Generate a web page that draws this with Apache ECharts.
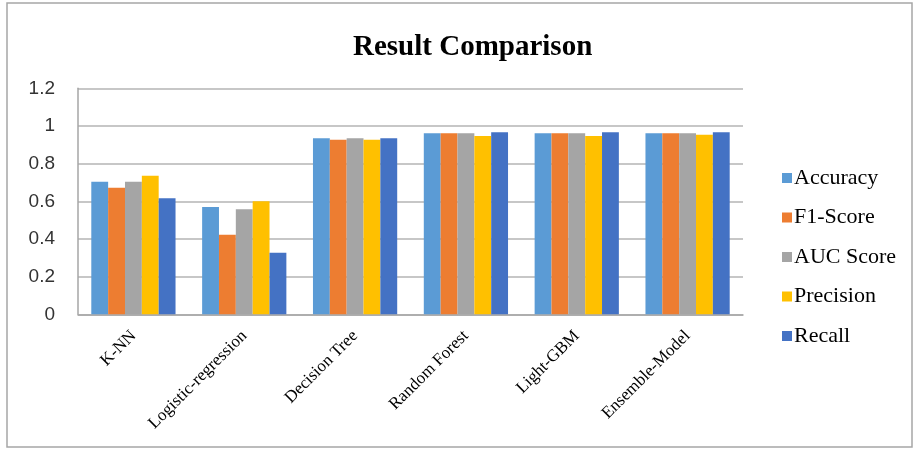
<!DOCTYPE html>
<html>
<head>
<meta charset="utf-8">
<script src="https://cdn.jsdelivr.net/npm/echarts@6/dist/echarts.min.js"></script>
<style>
html,body{margin:0;padding:0;background:#fff;}
#chart{width:917px;height:450px;}
</style>
</head>
<body>
<div id="chart"></div>
<script>
const categories = ['K-NN', 'Logistic-regression', 'Decision Tree', 'Random Forest', 'Light-GBM', 'Ensemble-Model'];
const accuracy  = [0.704, 0.570, 0.935, 0.961, 0.961, 0.961];
const f1Score   = [0.672, 0.423, 0.927, 0.961, 0.961, 0.961];
const aucScore  = [0.704, 0.558, 0.935, 0.961, 0.961, 0.961];
const precision = [0.736, 0.600, 0.927, 0.947, 0.947, 0.954];
const recall    = [0.616, 0.327, 0.935, 0.966, 0.966, 0.966];
const seriesNames = ['Accuracy', 'F1-Score', 'AUC Score', 'Precision', 'Recall'];
const seriesData = [accuracy, f1Score, aucScore, precision, recall];
const colors = ['#5B9BD5', '#ED7D31', '#A5A5A5', '#FFC000', '#4472C4'];

const chart = echarts.init(document.getElementById('chart'));
chart.setOption({
  animation: false,
  color: colors,
  title: {
    text: 'Result Comparison',
    left: 348,
    top: 28,
    textStyle: { fontFamily: 'Liberation Serif', fontSize: 29, fontWeight: 'bold', color: '#000' }
  },
  graphic: [{
    type: 'rect',
    shape: { x: 7, y: 3, width: 905, height: 444 },
    style: { fill: 'none', stroke: '#a6a6a6', lineWidth: 1.5 },
    silent: true
  }],
  legend: {
    orient: 'vertical',
    left: 777,
    top: 162,
    itemWidth: 10,
    itemHeight: 10,
    itemGap: 17.5,
    icon: 'rect',
    data: seriesNames,
    textStyle: { fontFamily: 'Liberation Serif', fontSize: 22, color: '#000', lineHeight: 22, padding: [0, 0, 0, -3] }
  },
  grid: { left: 78, right: 174, top: 88.3, bottom: 135.7, containLabel: false },
  xAxis: {
    type: 'category',
    data: categories,
    axisLine: { lineStyle: { color: '#a6a6a6', width: 1.5 } },
    axisTick: { show: false },
    axisLabel: {
      rotate: 45,
      interval: 0,
      margin: 19,
      fontFamily: 'Liberation Serif',
      fontSize: 17,
      color: '#000'
    }
  },
  yAxis: {
    type: 'value',
    min: 0,
    max: 1.2,
    interval: 0.2,
    axisLine: { show: true, lineStyle: { color: '#a6a6a6', width: 1.5 } },
    axisTick: { show: false },
    splitLine: { lineStyle: { color: '#b4b4b4', width: 1.5 } },
    axisLabel: {
      margin: 23,
      fontFamily: 'Liberation Sans',
      fontSize: 19,
      color: '#333',
      formatter: v => String(Math.round(v * 10) / 10)
    }
  },
  series: seriesNames.map((name, i) => ({
    name: name,
    type: 'bar',
    data: seriesData[i],
    barGap: '0%',
    barCategoryGap: '24%'
  }))
});
</script>
</body>
</html>
